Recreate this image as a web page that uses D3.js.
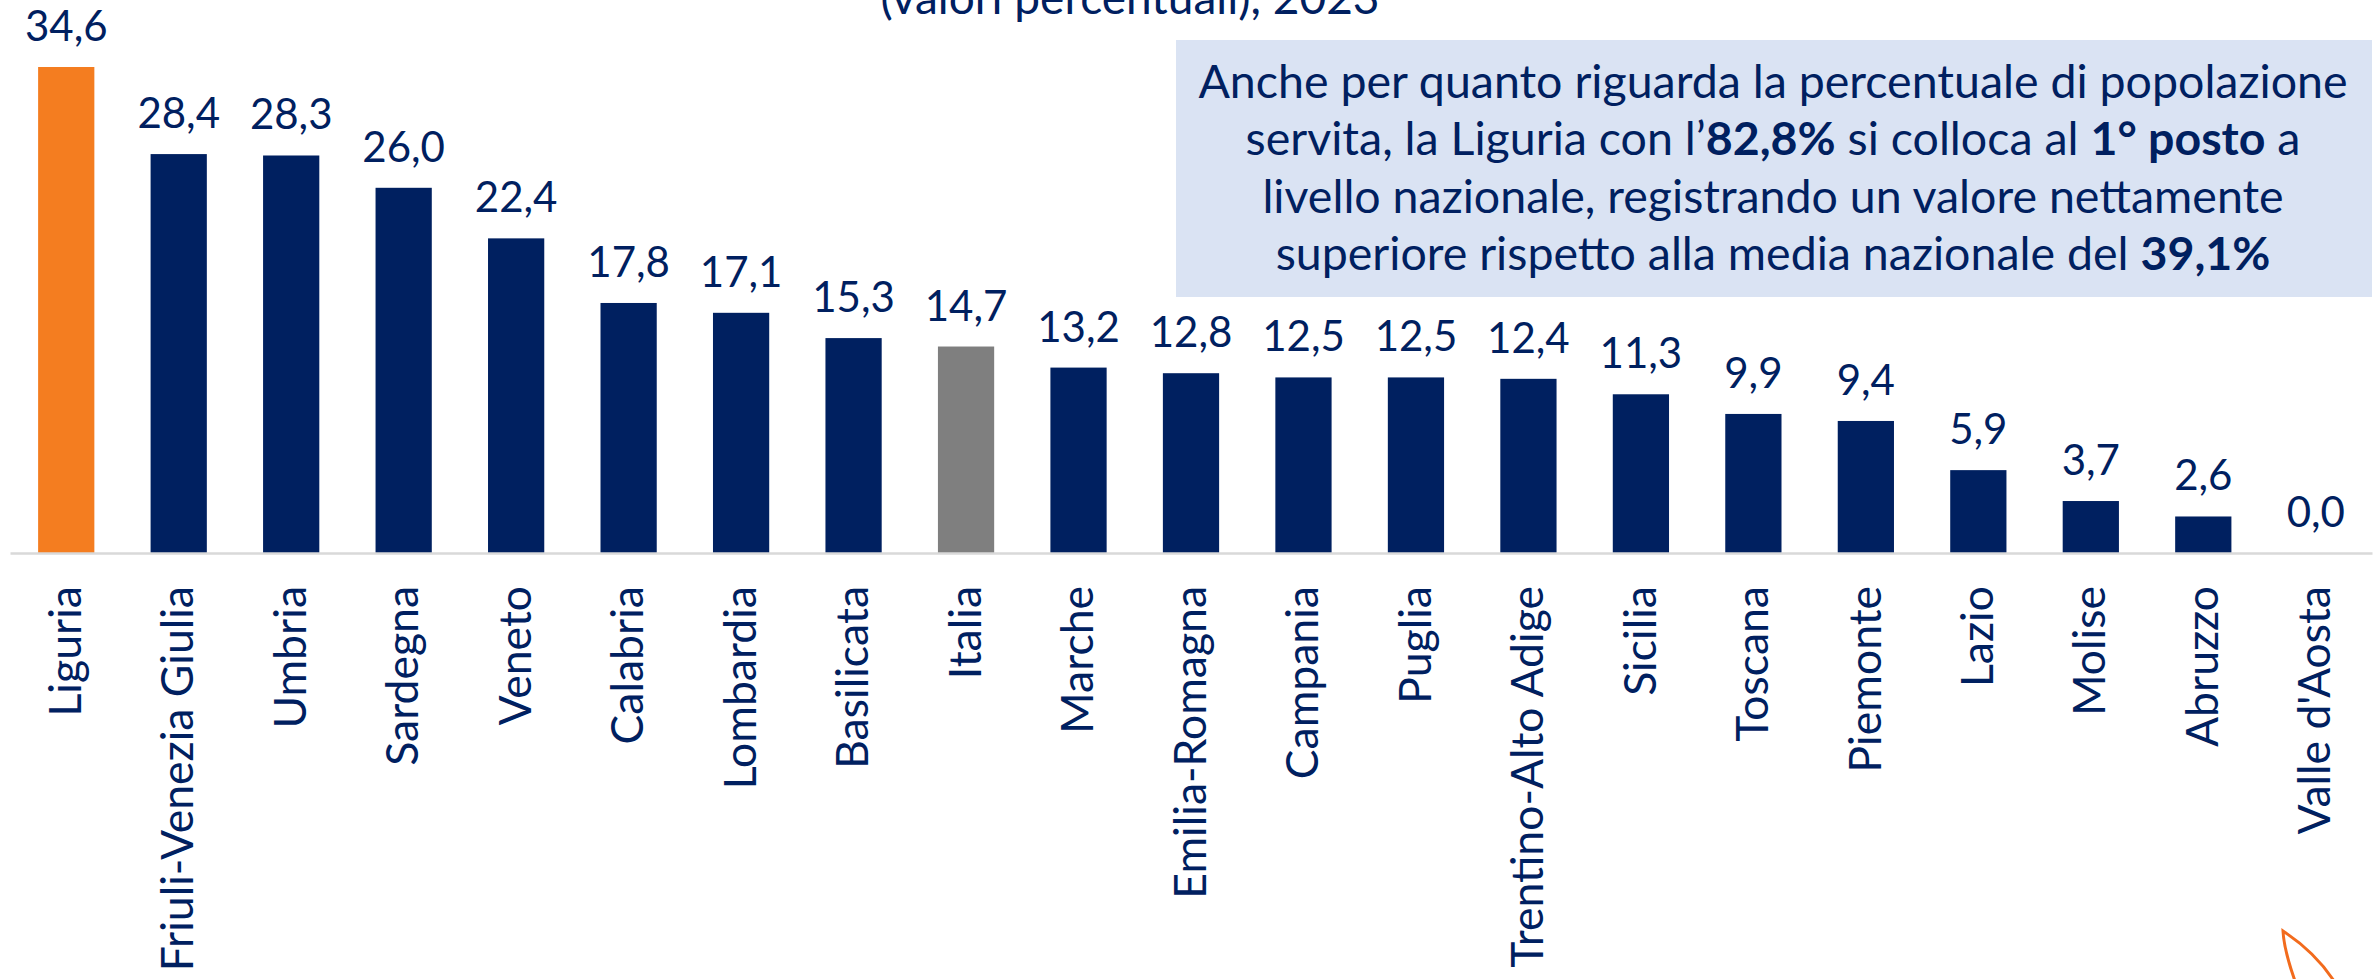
<!DOCTYPE html>
<html>
<head>
<meta charset="utf-8">
<script src="https://cdn.jsdelivr.net/npm/d3@7"></script>
<style>
  html, body { margin: 0; padding: 0; background: #ffffff; overflow: hidden; }
  svg { display: block; }
  text { font-family: "Lato", "Open Sans", sans-serif; }
</style>
</head>
<body>
<svg id="chart" width="2379" height="979"></svg>
<script>
// ---- Data ----
const categories = ["Liguria", "Friuli-Venezia Giulia", "Umbria", "Sardegna", "Veneto", "Calabria",
  "Lombardia", "Basilicata", "Italia", "Marche", "Emilia-Romagna", "Campania", "Puglia",
  "Trentino-Alto Adige", "Sicilia", "Toscana", "Piemonte", "Lazio", "Molise", "Abruzzo", "Valle d'Aosta"];
const values = [34.6, 28.4, 28.3, 26.0, 22.4, 17.8, 17.1, 15.3, 14.7, 13.2, 12.8, 12.5, 12.5,
  12.4, 11.3, 9.9, 9.4, 5.9, 3.7, 2.6, 0.0];
const highlight = "Liguria";
const national = "Italia";
const titleText = "(valori percentuali), 2023";
const boxLines = [
  [["Anche per quanto riguarda la percentuale di popolazione", false]],
  [["servita, la Liguria con l\u2019", false], ["82,8%", true], [" si colloca al ", false], ["1\u00b0 posto", true], [" a", false]],
  [["livello nazionale, registrando un valore nettamente", false]],
  [["superiore rispetto alla media nazionale del ", false], ["39,1%", true]]
];

// ---- Style ----
const NAVY = "#002060", ORANGE = "#F47D20", GREY = "#7F7F7F";
const baseY = 553;

const svg = d3.select("#chart");

const locale = d3.formatLocale({decimal: ",", thousands: ".", grouping: [3], currency: ["", "€"]});
const fmt = locale.format(".1f");

const x = d3.scaleBand().domain(categories).range([10, 2372]).paddingInner(0.5).paddingOuter(0.25);
const y = d3.scaleLinear().domain([0, 34.6]).range([baseY, 67]);

const data = categories.map((c, i) => ({c, v: values[i]}));

// title (partially cut off at top, as in the source)
svg.append("text")
  .attr("x", 1130).attr("y", 14)
  .attr("text-anchor", "middle")
  .attr("font-size", 46)
  .attr("fill", NAVY)
  .text(titleText);

// bars
svg.append("g").selectAll("rect").data(data).join("rect")
  .attr("x", d => x(d.c))
  .attr("width", x.bandwidth())
  .attr("y", d => y(d.v))
  .attr("height", d => y(0) - y(d.v))
  .attr("fill", d => d.c === highlight ? ORANGE : (d.c === national ? GREY : NAVY));

// axis line
const xAxis = d3.axisBottom(x).tickSize(0).tickFormat("");
const gx = svg.append("g").attr("transform", `translate(0,${baseY})`).call(xAxis);
gx.select(".domain").attr("stroke", "#D9D9D9").attr("stroke-width", 2.5);

// category labels
svg.append("g").selectAll("text").data(data).join("text")
  .attr("transform", d => `translate(${x(d.c) + x.bandwidth() / 2},586) rotate(-90)`)
  .attr("text-anchor", "end")
  .attr("dy", "0.33em")
  .attr("font-size", 44.5)
  .attr("fill", NAVY)
  .text(d => d.c);

// value labels
svg.append("g").selectAll("text").data(data).join("text")
  .attr("x", d => x(d.c) + x.bandwidth() / 2)
  .attr("y", d => y(d.v) - 26)
  .attr("text-anchor", "middle")
  .attr("font-size", 42)
  .attr("fill", NAVY)
  .text(d => fmt(d.v));

// commentary box
svg.append("rect")
  .attr("x", 1176).attr("y", 40).attr("width", 1196).attr("height", 257)
  .attr("fill", "#DAE3F3");
const boxText = svg.append("text")
  .attr("text-anchor", "middle")
  .attr("font-size", 46.5)
  .attr("fill", NAVY);
boxLines.forEach((line, i) => {
  line.forEach(([t, bold], j) => {
    const ts = boxText.append("tspan").text(t).attr("font-weight", bold ? 700 : 400);
    if (j === 0) ts.attr("x", 1773).attr("y", 98 + i * 57.3);
  });
});

// decorative logo fragment bottom-right
const p = d3.path();
p.moveTo(2295, 981);
p.quadraticCurveTo(2284, 950, 2283, 931);
p.quadraticCurveTo(2315, 952, 2334, 981);
svg.append("path").attr("d", p.toString())
  .attr("fill", "none").attr("stroke", "#F26B1D").attr("stroke-width", 3);
</script>
</body>
</html>
